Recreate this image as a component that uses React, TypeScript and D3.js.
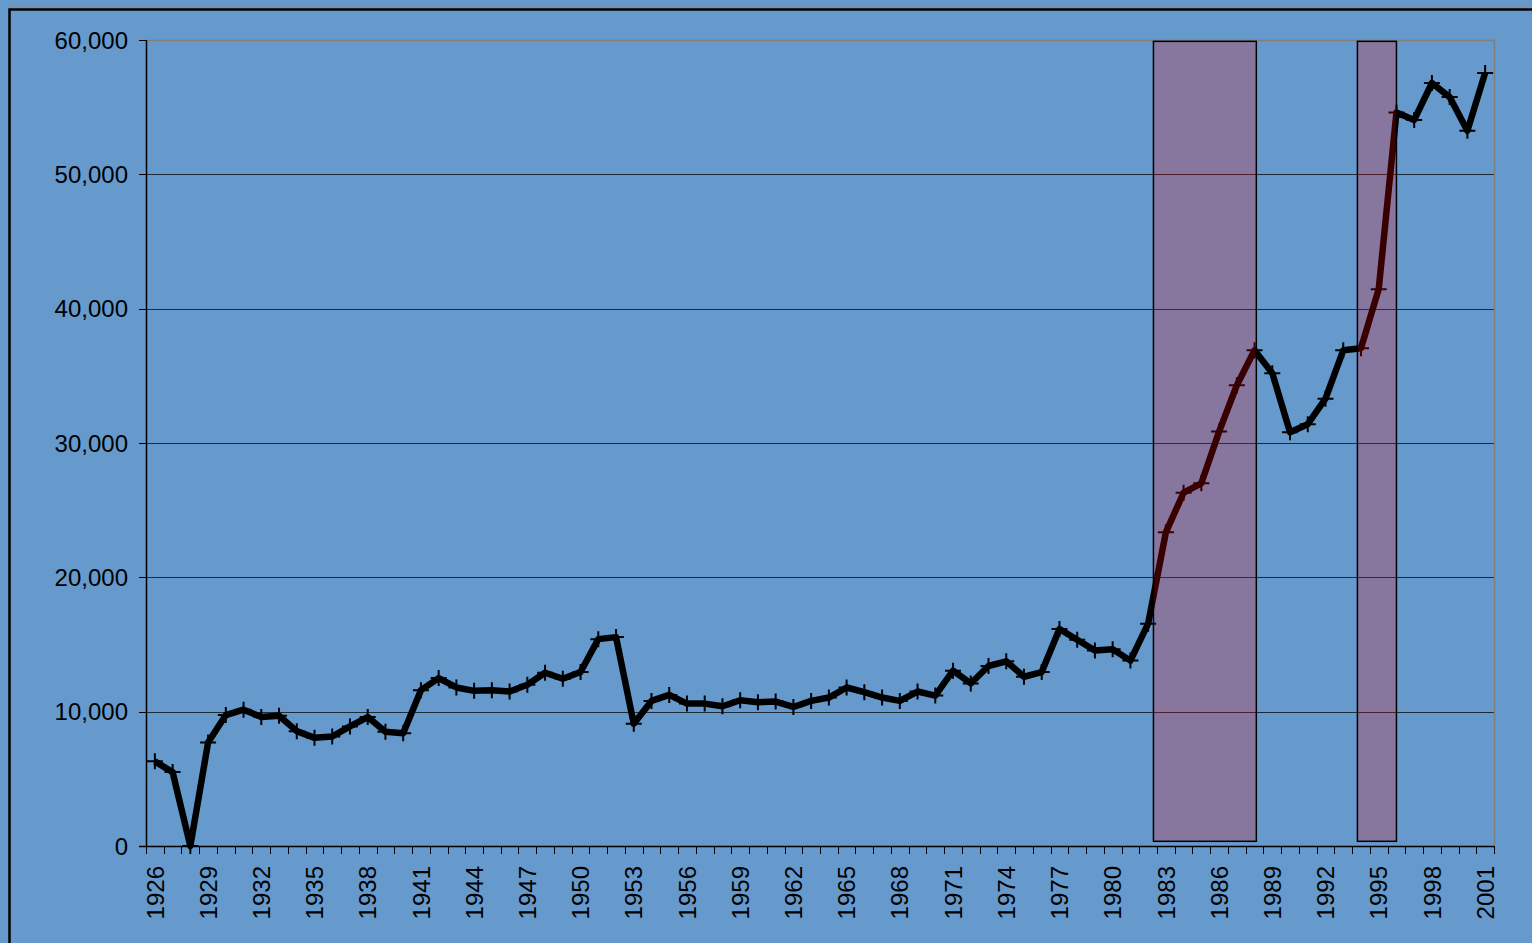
import React, { useEffect, useRef } from 'react';
import * as d3 from 'd3';

const years: number[] = d3.range(1926, 2002);
const values: number[] = [
  6300, 5500, 0, 7700, 9750, 10150, 9600, 9700, 8550, 8050,
  8150, 8900, 9600, 8500, 8400, 11600, 12500, 11800, 11550, 11600,
  11500, 12000, 12900, 12450, 12950, 15400, 15550, 9100, 10800, 11250,
  10600, 10600, 10400, 10850, 10700, 10750, 10350, 10800, 11050, 11800,
  11450, 11050, 10800, 11500, 11200, 13050, 12100, 13400, 13750, 12600,
  12950, 16150, 15350, 14550, 14650, 13800, 16550, 23350, 26300, 27000,
  30850, 34300, 36900, 35200, 30800, 31400, 33300, 36900, 37050, 41450,
  54600, 54050, 56800, 55750, 53250, 57550,
];
const yTicks: number[] = [0, 10000, 20000, 30000, 40000, 50000, 60000];
const labelYears: number[] = years.filter((_, i) => i % 3 === 0);
// shaded periods (year positions) and the value span they cover
const spanFrom: number[] = [1982.3, 1993.8];
const spanTo: number[] = [1988.1, 1996];
const spanValues: [number, number] = [350, 59900];

const W = 1532;
const H = 943;
const BG = '#6699cc';

function Chart() {
  const svgRef = useRef<SVGSVGElement | null>(null);

  useEffect(() => {
    const svg = d3.select(svgRef.current);
    svg.selectAll('*').remove();

    const left = 146, right = 1494, top = 40, bottom = 846;
    const x = d3.scaleLinear().domain([1925.5, 2001.5]).range([left, right]);
    const y = d3.scaleLinear().domain([0, 60000]).range([bottom, top]);

    svg.append('rect').attr('width', W).attr('height', H).attr('fill', BG);

    // outer frame (partly off-page)
    svg.append('path')
      .attr('d', `M9.5,${H} V9.5 H${W}`)
      .attr('fill', 'none')
      .attr('stroke', '#000')
      .attr('stroke-width', 2.5);
    svg.append('line')
      .attr('x1', 9).attr('x2', W).attr('y1', 6.5).attr('y2', 6.5)
      .attr('stroke', '#7a8ea8').attr('stroke-width', 1);

    // gridlines
    svg.append('g')
      .selectAll('line')
      .data(yTicks.filter(t => t > 0 && t < 60000))
      .join('line')
      .attr('x1', left).attr('x2', right)
      .attr('y1', d => Math.round(y(d)) + 0.5)
      .attr('y2', d => Math.round(y(d)) + 0.5)
      .attr('stroke', '#1e2a38')
      .attr('stroke-width', 1);

    // plot frame top/right
    svg.append('path')
      .attr('d', `M${left},${top + 0.5} H${right + 0.5} V${bottom}`)
      .attr('fill', 'none')
      .attr('stroke', '#808080')
      .attr('stroke-width', 1.5);

    // series line
    const pts = years.map((yr, i) => ({ yr, v: values[i] }));
    const line = d3.line<{ yr: number; v: number }>()
      .x(d => x(d.yr))
      .y(d => y(d.v));
    svg.append('path')
      .datum(pts)
      .attr('d', line)
      .attr('fill', 'none')
      .attr('stroke', '#000')
      .attr('stroke-width', 6.5)
      .attr('stroke-linejoin', 'round');

    // plus markers
    const mk = svg.append('g').attr('stroke', '#000').attr('stroke-width', 2);
    mk.selectAll('path')
      .data(pts)
      .join('path')
      .attr('d', d => {
        const cx = x(d.yr), cy = y(d.v);
        return `M${cx - 8},${cy} H${cx + 8} M${cx},${cy - 8} V${cy + 8}`;
      });

    // shaded periods
    svg.append('g')
      .selectAll('rect')
      .data(spanFrom.map((f, i) => ({ f, t: spanTo[i] })))
      .join('rect')
      .attr('x', d => x(d.f))
      .attr('width', d => x(d.t) - x(d.f))
      .attr('y', y(spanValues[1]))
      .attr('height', y(spanValues[0]) - y(spanValues[1]))
      .attr('fill', 'rgba(255,0,0,0.22)')
      .attr('stroke', '#000')
      .attr('stroke-width', 1.5);

    // axes
    const xAxis = svg.append('g');
    xAxis.append('line')
      .attr('x1', left - 7).attr('x2', right)
      .attr('y1', bottom + 0.5).attr('y2', bottom + 0.5)
      .attr('stroke', '#000').attr('stroke-width', 1.5);
    xAxis.selectAll('line.tk')
      .data(d3.range(1925.5, 2002.5, 1))
      .join('line')
      .attr('class', 'tk')
      .attr('x1', d => Math.round(x(d)) + 0.5)
      .attr('x2', d => Math.round(x(d)) + 0.5)
      .attr('y1', bottom).attr('y2', bottom + 8)
      .attr('stroke', '#000').attr('stroke-width', 1);
    xAxis.selectAll('text')
      .data(labelYears)
      .join('text')
      .attr('transform', d => `translate(${x(d)},${bottom + 20}) rotate(-90)`)
      .attr('text-anchor', 'end')
      .attr('dy', '0.36em')
      .attr('font-family', 'Liberation Sans, Arial, sans-serif')
      .attr('font-size', 24)
      .attr('fill', '#000')
      .text(d => String(d));

    const yAxis = svg.append('g');
    yAxis.append('line')
      .attr('x1', left + 0.5).attr('x2', left + 0.5)
      .attr('y1', top).attr('y2', bottom)
      .attr('stroke', '#000').attr('stroke-width', 1.5);
    yAxis.selectAll('line.tk')
      .data(yTicks)
      .join('line')
      .attr('class', 'tk')
      .attr('x1', left - 7).attr('x2', left)
      .attr('y1', d => Math.round(y(d)) + 0.5)
      .attr('y2', d => Math.round(y(d)) + 0.5)
      .attr('stroke', '#000').attr('stroke-width', 1);
    yAxis.selectAll('text')
      .data(yTicks)
      .join('text')
      .attr('x', left - 18)
      .attr('y', d => y(d))
      .attr('dy', '0.36em')
      .attr('text-anchor', 'end')
      .attr('font-family', 'Liberation Sans, Arial, sans-serif')
      .attr('font-size', 24)
      .attr('fill', '#000')
      .text(d => d3.format(',')(d));
  }, []);

  return <svg ref={svgRef} width={W} height={H} style={{ display: 'block' }} />;
}

export default function App() {
  return (
    <div style={{ position: 'absolute', left: 0, top: 0 }}>
      <Chart />
    </div>
  );
}
